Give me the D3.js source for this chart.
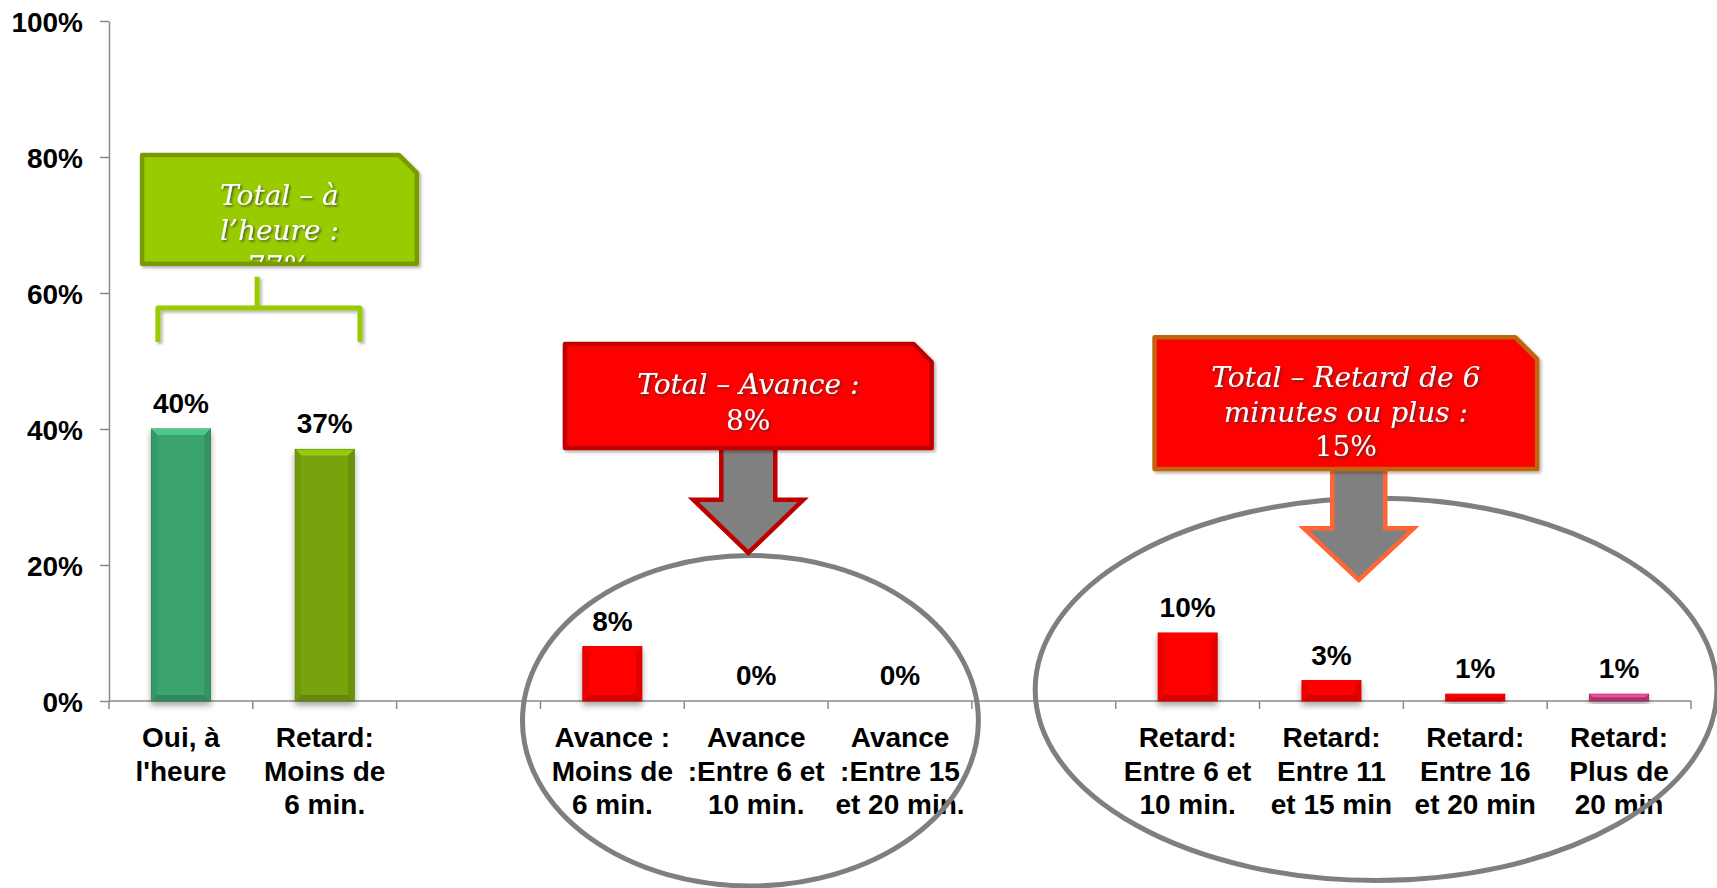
<!DOCTYPE html>
<html>
<head>
<meta charset="utf-8">
<script src="https://cdn.jsdelivr.net/npm/d3@7"></script>
<style>
  html, body { margin: 0; padding: 0; background: #ffffff; }
  svg { display: block; }
</style>
</head>
<body>
<svg id="chart" width="1717" height="888"></svg>
<script>
// ---------- data ----------
const categories = [
  "Oui, à\nl'heure",
  "Retard:\nMoins de\n6 min.",
  "",
  "Avance :\nMoins de\n6 min.",
  "Avance\n:Entre 6 et\n10 min.",
  "Avance\n:Entre 15\net 20 min.",
  "",
  "Retard:\nEntre 6 et\n10 min.",
  "Retard:\nEntre 11\net 15 min",
  "Retard:\nEntre 16\net 20 min",
  "Retard:\nPlus de\n20 min"
];
const values = [40, 37, null, 8, 0, 0, null, 10, 3, 1, 1];
const barColors = ["#3AA36F", "#78A308", null, "#FF0000", "#FF0000", "#FF0000", null, "#FF0000", "#FF0000", "#FF0000", "#C23E80"];
const yTicks = [0, 20, 40, 60, 80, 100];
const calloutGreenLines = ["Total – à", "l’heure :", "77%"];
const calloutAvanceLines = ["Total – Avance :", "8%"];
const calloutRetardLines = ["Total – Retard de 6", "minutes ou plus :", "15%"];

// ---------- layout ----------
const svg = d3.select("#chart");
const plotLeft = 109, plotRight = 1691, plotTop = 21, plotBottom = 701;

const x = d3.scaleBand()
  .domain(d3.range(categories.length))
  .range([plotLeft, plotRight])
  .paddingInner(0.59)
  .paddingOuter(0.295);
const step = x.step();
const bu = u => plotLeft + u * step;          // band units -> px
const y = d3.scaleLinear().domain([0, 100]).range([plotBottom, plotTop]);

const defs = svg.append("defs");
const shadow = defs.append("filter").attr("id", "barShadow")
  .attr("x", "-20%").attr("y", "-20%").attr("width", "140%").attr("height", "160%");
shadow.append("feDropShadow").attr("dx", 0).attr("dy", 4).attr("stdDeviation", 3)
  .attr("flood-color", "#000").attr("flood-opacity", 0.35);
const tshadow = defs.append("filter").attr("id", "textShadow")
  .attr("x", "-10%").attr("y", "-30%").attr("width", "130%").attr("height", "170%");
tshadow.append("feDropShadow").attr("dx", 1.5).attr("dy", 1.5).attr("stdDeviation", 1)
  .attr("flood-color", "#333").attr("flood-opacity", 0.75);
const bshadow = defs.append("filter").attr("id", "boxShadow")
  .attr("x", "-10%").attr("y", "-10%").attr("width", "130%").attr("height", "130%");
bshadow.append("feDropShadow").attr("dx", 2).attr("dy", 2).attr("stdDeviation", 1.5)
  .attr("flood-color", "#000").attr("flood-opacity", 0.3);

const labelFont = "'Liberation Sans', Arial, Helvetica, sans-serif";
const calloutFont = "'DejaVu Serif', 'Liberation Serif', serif";

// ---------- axes ----------
const yAxis = d3.axisLeft(y).tickValues(yTicks).tickFormat(d => d + "%")
  .tickSize(9).tickSizeOuter(0).tickPadding(17);
const gy = svg.append("g").attr("transform", `translate(${plotLeft},0)`).call(yAxis);
gy.select(".domain").attr("stroke", "#8a8a8a").attr("stroke-width", 1.5);
gy.selectAll(".tick line").attr("stroke", "#8a8a8a").attr("stroke-width", 1.5);
gy.selectAll(".tick text")
  .attr("font-family", labelFont).attr("font-weight", "bold")
  .attr("font-size", 28).attr("fill", "#000").attr("dy", "0.36em");

// x axis line and boundary ticks
const gx = svg.append("g");
gx.append("line").attr("x1", plotLeft).attr("x2", plotRight).attr("y1", plotBottom).attr("y2", plotBottom)
  .attr("stroke", "#8a8a8a").attr("stroke-width", 1.5);
gx.selectAll("line.tk").data(d3.range(categories.length + 1)).join("line")
  .attr("class", "tk")
  .attr("x1", i => bu(i)).attr("x2", i => bu(i))
  .attr("y1", plotBottom).attr("y2", plotBottom + 8)
  .attr("stroke", "#8a8a8a").attr("stroke-width", 1.5);

// category labels
const catG = svg.append("g");
categories.forEach((c, i) => {
  if (!c) return;
  const cx = x(i) + x.bandwidth() / 2;
  const t = catG.append("text")
    .attr("x", cx).attr("y", 747)
    .attr("text-anchor", "middle")
    .attr("font-family", labelFont).attr("font-weight", "bold")
    .attr("font-size", 28).attr("fill", "#000");
  c.split("\n").forEach((line, k) => {
    t.append("tspan").attr("x", cx).attr("dy", k === 0 ? 0 : 33.5).text(line);
  });
});

// ---------- bars ----------
const barG = svg.append("g");
values.forEach((v, i) => {
  if (v === null) return;
  const bx = x(i), bw = x.bandwidth();
  const by = y(v), bh = y(0) - y(v);
  if (bh > 0) {
    const base = d3.color(barColors[i]);
    const g = barG.append("g").attr("filter", "url(#barShadow)");
    g.append("rect").attr("x", bx).attr("y", by).attr("width", bw).attr("height", bh)
      .attr("fill", base.formatHex())
      .attr("stroke", base.darker(0.9).formatHex()).attr("stroke-width", 1);
    const b = Math.min(6, bh / 2);
    const poly = pts => pts.map(p => p.join(",")).join(" ");
    g.append("polygon").attr("points", poly([[bx, by], [bx + bw, by], [bx + bw - b, by + b], [bx + b, by + b]]))
      .attr("fill", base.brighter(0.6).formatHex());
    g.append("polygon").attr("points", poly([[bx, by + bh], [bx + bw, by + bh], [bx + bw - b, by + bh - b], [bx + b, by + bh - b]]))
      .attr("fill", base.darker(0.5).formatHex());
    g.append("polygon").attr("points", poly([[bx, by], [bx + b, by + b], [bx + b, by + bh - b], [bx, by + bh]]))
      .attr("fill", base.darker(0.2).formatHex());
    g.append("polygon").attr("points", poly([[bx + bw, by], [bx + bw - b, by + b], [bx + bw - b, by + bh - b], [bx + bw, by + bh]]))
      .attr("fill", base.darker(0.3).formatHex());
  }
  barG.append("text")
    .attr("x", bx + bw / 2).attr("y", by - 16)
    .attr("text-anchor", "middle")
    .attr("font-family", labelFont).attr("font-weight", "bold")
    .attr("font-size", 28).attr("fill", "#000")
    .text(v + "%");
});

// ---------- annotations ----------
const annG = svg.append("g");

function cutBoxPath(x0, y0, x1, y1, c) {
  return `M${x0},${y0} L${x1 - c},${y0} L${x1},${y0 + c} L${x1},${y1} L${x0},${y1} Z`;
}
function arrowPath(cx, yTop, shaftHalf, yHead, headHalf, yTip) {
  return `M${cx - shaftHalf},${yTop} L${cx + shaftHalf},${yTop} L${cx + shaftHalf},${yHead} ` +
    `L${cx + headHalf},${yHead} L${cx},${yTip} L${cx - headHalf},${yHead} L${cx - shaftHalf},${yHead} Z`;
}
function callout(id, x0, y0, x1, y1, cut, fill, stroke, lines, italicCount, lineGap) {
  const d = cutBoxPath(x0, y0, x1, y1, cut);
  annG.append("path").attr("d", d).attr("fill", fill).attr("stroke", stroke)
    .attr("stroke-width", 4.5).attr("stroke-linejoin", "round").attr("filter", "url(#boxShadow)");
  defs.append("clipPath").attr("id", id).append("path").attr("d", cutBoxPath(x0 + 2, y0 + 2, x1 - 2, y1 - 2, cut));
  const cx = (x0 + x1) / 2;
  const t = annG.append("g").attr("clip-path", `url(#${id})`).append("text")
    .attr("x", cx).attr("y", y0 + 50)
    .attr("text-anchor", "middle")
    .attr("font-family", calloutFont).attr("font-size", 28)
    .attr("fill", "#fff").attr("filter", "url(#textShadow)");
  lines.forEach((ln, k) => {
    t.append("tspan").attr("x", cx).attr("dy", k === 0 ? 0 : lineGap)
      .attr("font-style", k < italicCount ? "italic" : "normal").text(ln);
  });
}

// ellipses
annG.append("ellipse").attr("cx", bu(4.46)).attr("cy", y(-2.9))
  .attr("rx", 1.585 * step).attr("ry", y(0) - y(24.3))
  .attr("fill", "none").attr("stroke", "#7f7f7f").attr("stroke-width", 5);
annG.append("ellipse").attr("cx", bu(8.81)).attr("cy", y(1.7))
  .attr("rx", 2.37 * step).attr("ry", y(0) - y(28.1))
  .attr("fill", "none").attr("stroke", "#7f7f7f").attr("stroke-width", 5);

// green bracket
const brL = bu(0.34), brR = bu(1.745), brS = bu(1.03);
annG.append("path")
  .attr("d", `M${brL},${y(52.8)} L${brL},${y(57.8)} L${brR},${y(57.8)} L${brR},${y(52.8)} M${brS},${y(57.8)} L${brS},${y(62.4)}`)
  .attr("fill", "none").attr("stroke", "#99CC00").attr("stroke-width", 5)
  .attr("stroke-linejoin", "round").attr("filter", "url(#boxShadow)");

// green callout
callout("clipGreen", bu(0.23), y(80.3), bu(2.14), y(64.3), 18, "#99CC00", "#779B00",
  calloutGreenLines, 2, 35.5);

// arrows
annG.append("path")
  .attr("d", arrowPath(bu(4.445), y(37.5), 27, y(29.6), 55, y(21.8)))
  .attr("fill", "#808080").attr("stroke", "#C00000").attr("stroke-width", 4.5)
  .attr("stroke-linejoin", "miter");
annG.append("path")
  .attr("d", arrowPath(bu(8.69), y(34.5), 26.5, y(25.4), 55, y(17.8)))
  .attr("fill", "#808080").attr("stroke", "#FF6633").attr("stroke-width", 4.5)
  .attr("stroke-linejoin", "miter");

// red callouts
callout("clipAvance", bu(3.17), y(52.5), bu(5.72), y(37.2), 18, "#FF0000", "#C00000",
  calloutAvanceLines, 1, 36);
callout("clipRetard", bu(7.27), y(53.5), bu(9.93), y(34.1), 22, "#FF0000", "#C0650F",
  calloutRetardLines, 2, 34.5);
</script>
</body>
</html>
